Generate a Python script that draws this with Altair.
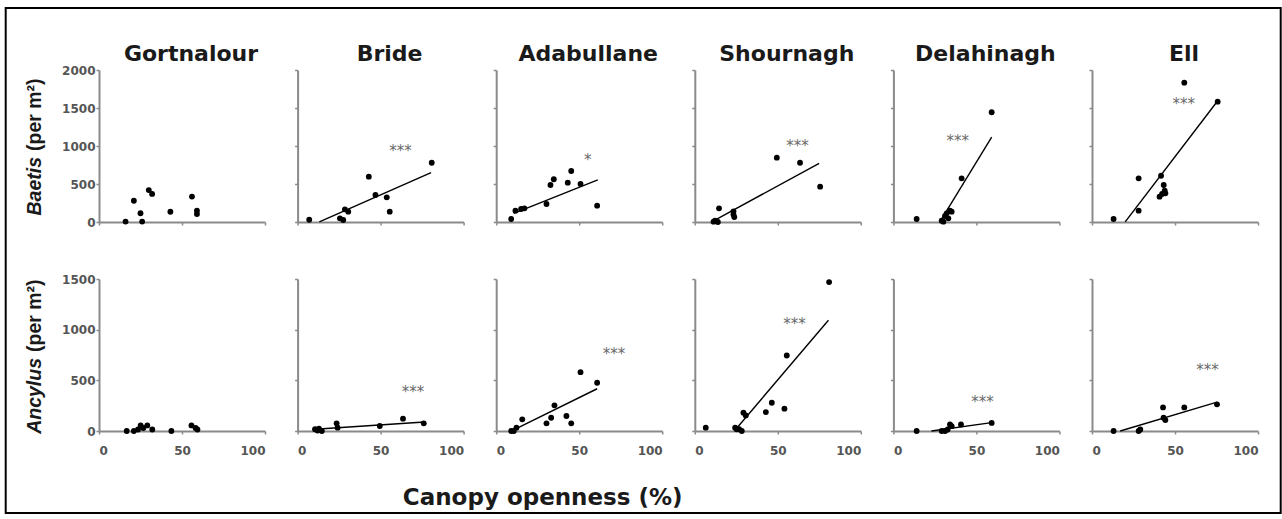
import altair as alt
import pandas as pd

sites = ["Gortnalour", "Bride", "Adabullane", "Shournagh", "Delahinagh", "Ell"]

# Baetis density (per m2) against canopy openness (%), one pair of lists per site
baetis_open_gortnalour = [16, 21, 25, 26, 30, 32, 43, 56, 59, 59]
baetis_gortnalour = [5, 280, 115, 5, 420, 370, 135, 335, 150, 105]
baetis_open_bride = [7, 25.5, 27.5, 28.5, 30.5, 42.9, 46.9, 53.7, 55.5, 80.8]
baetis_bride = [30, 48, 26, 167, 136, 596, 355, 325, 136, 780]
baetis_open_adabullane = [9, 11.6, 15, 17, 30.3, 32.7, 34.7, 43.1, 45.2, 50.8, 60.8]
baetis_adabullane = [39, 149, 171, 180, 237, 487, 562, 518, 671, 500, 215]
baetis_open_shournagh = [11.3, 12.2, 13.9, 14.6, 23.3, 23.3, 23.8, 49.4, 63.4, 75.5]
baetis_shournagh = [4, 17, 0, 180, 140, 100, 65, 846, 780, 465]
baetis_open_delahinagh = [14, 29.1, 30.1, 31.1, 32.1, 33.1, 34.1, 35.1, 41.1, 59.2]
baetis_delahinagh = [39, 17, 4, 79, 114, 48, 149, 136, 575, 1444]
baetis_open_ell = [13, 28.1, 28.1, 41.6, 43.2, 43.8, 42.2, 40.7, 44.2, 55.6, 75.7]
baetis_ell = [39, 149, 575, 609, 487, 412, 368, 333, 377, 1833, 1583]

# Ancylus density (per m2) against canopy openness (%)
ancylus_open_gortnalour = [16.7, 21, 23.5, 25.1, 26.7, 29.1, 32.1, 43.6, 55.7, 58.2, 59.3]
ancylus_gortnalour = [0, 0, 15, 55, 30, 55, 15, 0, 55, 30, 15]
ancylus_open_bride = [10.5, 12, 12.9, 14.6, 23.5, 24.1, 49.5, 63.5, 76]
ancylus_bride = [17, 5, 23, 0, 76, 33, 49, 122, 76]
ancylus_open_adabullane = [9, 10.6, 12.2, 15.7, 30.3, 33.1, 35.1, 42.3, 45.2, 50.8, 60.8]
ancylus_adabullane = [0, 0, 33, 115, 76, 131, 253, 148, 76, 581, 476]
ancylus_open_shournagh = [6.6, 24.3, 25.3, 26.7, 28.3, 29.3, 30.7, 42.8, 46.4, 54, 55.4, 80.9]
ancylus_shournagh = [33, 33, 17, 17, 0, 181, 154, 187, 279, 220, 745, 1470]
ancylus_open_delahinagh = [14, 29.1, 31.1, 32.7, 34.1, 35.1, 40.7, 59.2]
ancylus_delahinagh = [0, 0, 0, 15, 64, 48, 64, 80]
ancylus_open_ell = [13, 28.1, 29.1, 42.8, 43.1, 44.2, 55.6, 75.3]
ancylus_ell = [0, 0, 15, 233, 131, 108, 233, 263]

# Fitted regression lines (intercept, slope, x range), per site
baetis_fit_intercept = [None, -126, 22, -119, -998, -571]
baetis_fit_slope = [None, 9.64, 8.68, 11.9, 35.7, 28.6]
baetis_fit_from = [None, 13.1, 10.6, 11.3, 28.0, 20.0]
baetis_fit_to = [None, 80.4, 61.2, 74.9, 59.2, 75.3]

ancylus_fit_intercept = [None, 5.5, -72.5, -460, -52, -83]
ancylus_fit_slope = [None, 1.09, 8.05, 19.3, 2.27, 4.89]
ancylus_fit_from = [None, 10.5, 9.0, 23.8, 22.9, 17.0]
ancylus_fit_to = [None, 76.4, 60.8, 80.5, 59.2, 75.3]

# Significance markers and where they sit
baetis_sig = ["", "***", "*", "***", "***", "***"]
baetis_sig_x = [None, 62, 55.2, 61.9, 38.7, 55.2]
baetis_sig_y = [None, 970, 860, 1044, 1100, 1596]
ancylus_sig = ["", "***", "***", "***", "***", "***"]
ancylus_sig_x = [None, 69.5, 70.9, 60, 53.6, 69.6]
ancylus_sig_y = [None, 417, 787, 1082, 319, 634]

x_ticks = [0, 50, 100]

baetis_points = [
    (baetis_open_gortnalour, baetis_gortnalour),
    (baetis_open_bride, baetis_bride),
    (baetis_open_adabullane, baetis_adabullane),
    (baetis_open_shournagh, baetis_shournagh),
    (baetis_open_delahinagh, baetis_delahinagh),
    (baetis_open_ell, baetis_ell),
]
ancylus_points = [
    (ancylus_open_gortnalour, ancylus_gortnalour),
    (ancylus_open_bride, ancylus_bride),
    (ancylus_open_adabullane, ancylus_adabullane),
    (ancylus_open_shournagh, ancylus_shournagh),
    (ancylus_open_delahinagh, ancylus_delahinagh),
    (ancylus_open_ell, ancylus_ell),
]

W, H = 166, 152
TITLE_FONT = "DejaVu Sans"
AXIS_GREY = "#8a8a8a"
one_row = pd.DataFrame({"k": [0]})


def panel(row, i, pts, fit, sig, ymax):
    first_col = i == 0
    bottom = row == 1
    xs = alt.Scale(domain=[0, 100], nice=False)
    ys = alt.Scale(domain=[0, ymax], nice=False)
    xaxis = alt.Axis(values=x_ticks, labels=bottom, title=None, grid=False,
                     labelPadding=11, format="d")
    yaxis = alt.Axis(values=list(range(0, ymax + 1, 500)), labels=first_col,
                     title=None, grid=False, labelPadding=1, format="d")

    df = pd.DataFrame({"open": pts[0], "density": pts[1]})
    layers = [
        alt.Chart(df).mark_circle(size=34, color="black", opacity=1).encode(
            x=alt.X("open:Q", scale=xs, axis=xaxis),
            y=alt.Y("density:Q", scale=ys, axis=yaxis),
        )
    ]

    a, b, x0, x1 = fit
    if a is not None:
        line = pd.DataFrame({"x1": [x0], "x2": [x1],
                             "y1": [a + b * x0], "y2": [a + b * x1]})
        layers.append(
            alt.Chart(line).mark_rule(color="black", strokeWidth=1.4).encode(
                x=alt.X("x1:Q", scale=xs, axis=xaxis),
                x2="x2:Q",
                y=alt.Y("y1:Q", scale=ys, axis=yaxis),
                y2="y2:Q",
            )
        )

    label, sx, sy = sig
    if label:
        star = pd.DataFrame({"sx": [sx], "sy": [sy], "label": [label]})
        layers.append(
            alt.Chart(star).mark_text(font=TITLE_FONT, fontSize=15, color="#6a6a6a",
                                      baseline="alphabetic", dy=8).encode(
                x=alt.X("sx:Q", scale=xs, axis=xaxis),
                y=alt.Y("sy:Q", scale=ys, axis=yaxis),
                text="label:N",
            )
        )

    if row == 0:
        layers.append(
            alt.Chart(one_row).mark_text(font=TITLE_FONT, fontSize=22, fontWeight="bold",
                                         color="#1a1a1a", align="center",
                                         baseline="alphabetic").encode(
                x=alt.value(92), y=alt.value(-9), text=alt.value(sites[i])
            )
        )

    if first_col:
        # rotated y title: italic genus name followed by the upright unit
        genus = "Baetis" if row == 0 else "Ancylus"
        split = 87 if row == 0 else 79
        common = dict(font="Liberation Sans", fontSize=19.5, fontWeight="bold",
                      color="#1a1a1a", angle=270, baseline="alphabetic")
        layers.append(
            alt.Chart(one_row).mark_text(fontStyle="italic", align="right", **common).encode(
                x=alt.value(-58), y=alt.value(split), text=alt.value(genus)
            )
        )
        layers.append(
            alt.Chart(one_row).mark_text(align="left", **common).encode(
                x=alt.value(-58), y=alt.value(split - 6), text=alt.value("(per m²)")
            )
        )

    if row == 0 and first_col:
        # frame around the whole figure and the shared x-axis title
        layers.append(
            alt.Chart(one_row).mark_rect(filled=False, stroke="black", strokeWidth=2).encode(
                x=alt.value(-93.3), x2=alt.value(1181.7),
                y=alt.value(-62), y2=alt.value(443),
            )
        )
        layers.append(
            alt.Chart(one_row).mark_text(font=TITLE_FONT, fontSize=23, fontWeight="bold",
                                         color="#1a1a1a", align="center",
                                         baseline="alphabetic").encode(
                x=alt.value(443.7), y=alt.value(435), text=alt.value("Canopy openness (%)")
            )
        )

    return alt.layer(*layers).properties(width=W, height=H)


def row_panels(row, points, fa, fb, f0, f1, sl, sx, sy, ymax):
    return [
        panel(row, i, points[i], (fa[i], fb[i], f0[i], f1[i]), (sl[i], sx[i], sy[i]), ymax)
        for i in range(len(sites))
    ]


panels = row_panels(0, baetis_points, baetis_fit_intercept, baetis_fit_slope,
                    baetis_fit_from, baetis_fit_to, baetis_sig, baetis_sig_x,
                    baetis_sig_y, 2000)
panels += row_panels(1, ancylus_points, ancylus_fit_intercept, ancylus_fit_slope,
                     ancylus_fit_from, ancylus_fit_to, ancylus_sig, ancylus_sig_x,
                     ancylus_sig_y, 1500)

chart = (
    alt.concat(*panels, columns=6, spacing={"row": 57, "column": 32.6}, bounds="flush")
    .properties(padding={"left": 4, "top": 7, "right": 0, "bottom": 0},
                background="white")
    .configure_view(stroke=None)
    .configure_axis(
        domainColor=AXIS_GREY, domainWidth=2, tickColor=AXIS_GREY, tickWidth=1.5,
        tickSize=3, labelFont=TITLE_FONT, labelFontSize=12, labelFontWeight="bold",
        labelColor="#555555",
    )
)

chart.save("out.html", embed_options={"renderer": "svg", "actions": False})
